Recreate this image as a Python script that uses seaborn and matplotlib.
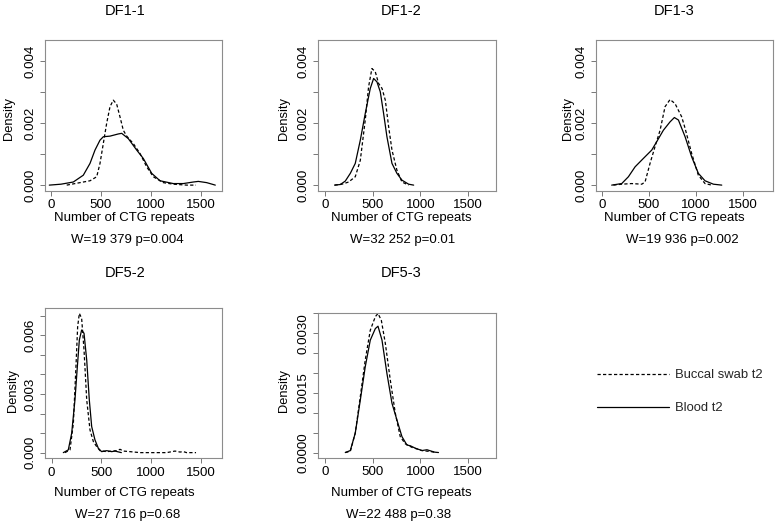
import matplotlib
matplotlib.use('Agg')
import matplotlib.pyplot as plt
import seaborn as sns

# density curves (x = CTG repeats, y = density)
df11_blood_x = [-17, 100, 223, 323, 390, 440, 490, 523, 590, 673, 707, 773, 857, 923, 1007, 1090, 1223, 1323, 1423, 1473, 1557, 1643]
df11_blood_y = [0.0, 0.00003, 0.0001, 0.00032, 0.0007, 0.00113, 0.00145, 0.00156, 0.00158, 0.00165, 0.00167, 0.0015, 0.00113, 0.00086, 0.00038, 0.00014, 0.00005, 0.00005, 0.0001, 0.00012, 0.00008, 0.0]
df11_buccal_x = [157, 290, 390, 457, 490, 523, 557, 590, 623, 657, 690, 723, 757, 823, 890, 957, 1023, 1123, 1223, 1357, 1450]
df11_buccal_y = [0.0, 0.00008, 0.00014, 0.00027, 0.0007, 0.00134, 0.002, 0.00253, 0.00274, 0.00261, 0.0022, 0.00177, 0.00158, 0.00134, 0.00102, 0.00059, 0.00027, 0.00008, 0.00003, 0.0, 0.0]

df12_blood_x = [98, 158, 210, 263, 315, 368, 420, 473, 508, 543, 578, 613, 648, 701, 753, 806, 876, 929]
df12_blood_y = [0.0, 0.00002, 0.00013, 0.00038, 0.0007, 0.00145, 0.00231, 0.00312, 0.00344, 0.00333, 0.00301, 0.00231, 0.00156, 0.0007, 0.00038, 0.00016, 0.00003, 0.0]
df12_buccal_x = [98, 175, 245, 315, 368, 420, 455, 490, 525, 560, 596, 631, 666, 701, 753, 806, 876]
df12_buccal_y = [0.0, 0.00003, 0.0001, 0.00027, 0.0008, 0.0021, 0.00317, 0.00376, 0.00366, 0.00328, 0.00312, 0.00274, 0.00188, 0.00113, 0.00048, 0.0001, 0.0]

df13_blood_x = [106, 213, 284, 355, 443, 532, 585, 656, 727, 773, 816, 887, 957, 1028, 1099, 1188, 1277]
df13_blood_y = [0.0, 0.00005, 0.00027, 0.00059, 0.00086, 0.00113, 0.0014, 0.00177, 0.00204, 0.00218, 0.0021, 0.00156, 0.00091, 0.00038, 0.00014, 0.00003, 0.0]
df13_buccal_x = [124, 213, 319, 426, 461, 514, 567, 621, 674, 727, 780, 851, 887, 957, 1028, 1099, 1170]
df13_buccal_y = [0.0, 0.00003, 0.00005, 0.00003, 0.0001, 0.0007, 0.00124, 0.00177, 0.00253, 0.00276, 0.00263, 0.0022, 0.00183, 0.00102, 0.00032, 0.00005, 0.0]

df52_blood_x = [117, 167, 201, 234, 258, 278, 301, 325, 352, 378, 402, 435, 469, 502, 553, 603, 636, 700]
df52_blood_y = [0.0, 0.00014, 0.00099, 0.0027, 0.0044, 0.00576, 0.00627, 0.0061, 0.00474, 0.0027, 0.00133, 0.00065, 0.00022, 0.00005, 0.0001, 0.00005, 0.00008, 0.0]
df52_buccal_x = [134, 184, 218, 244, 261, 278, 301, 325, 352, 385, 419, 452, 486, 553, 653, 687, 720, 787, 888, 1155, 1239, 1289, 1323, 1356, 1450]
df52_buccal_y = [0.0, 0.00014, 0.0015, 0.0044, 0.00644, 0.00712, 0.00687, 0.00525, 0.0027, 0.00116, 0.00056, 0.00031, 0.0001, 0.00005, 0.0001, 0.00017, 0.00008, 0.00005, 0.0, 0.0, 0.00008, 0.00003, 0.00005, 0.0, 0.0]

df53_blood_x = [210, 263, 315, 368, 420, 473, 526, 554, 596, 648, 701, 753, 806, 858, 894, 946, 1016, 1069, 1149, 1190]
df53_blood_y = [0.0, 0.00005, 0.00049, 0.00132, 0.00216, 0.00283, 0.00312, 0.00318, 0.00283, 0.00199, 0.00124, 0.00082, 0.0004, 0.00019, 0.00017, 0.00011, 0.00005, 0.00007, 0.00001, 0.0]
df53_buccal_x = [210, 263, 315, 368, 420, 473, 526, 554, 589, 631, 683, 736, 788, 841, 911, 1016, 1121, 1160]
df53_buccal_y = [0.0, 0.00003, 0.00049, 0.00141, 0.00233, 0.00308, 0.00342, 0.0035, 0.00333, 0.00275, 0.00183, 0.00099, 0.0004, 0.00022, 0.00013, 0.00005, 0.00002, 0.0]

titles = ['DF1-1', 'DF1-2', 'DF1-3', 'DF5-2', 'DF5-3']
stats_text = ['W=19 379 p=0.004', 'W=32 252 p=0.01', 'W=19 936 p=0.002', 'W=27 716 p=0.68', 'W=22 488 p=0.38']
x_ticks = [0, 500, 1000, 1500]
y_ticks_a = [0.000, 0.001, 0.002, 0.003, 0.004]
y_labels_a = ['0.000', '', '0.002', '', '0.004']
y_ticks_b = [0.000, 0.001, 0.002, 0.003, 0.004, 0.005, 0.006, 0.007]
y_labels_b = ['0.000', '', '', '0.003', '', '', '0.006', '']
y_ticks_c = [0.0, 0.0005, 0.0010, 0.0015, 0.0020, 0.0025, 0.0030, 0.0035]
y_labels_c = ['0.0000', '', '', '0.0015', '', '', '0.0030', '']
legend_labels = ['Buccal swab t2', 'Blood t2']

sns.set_theme(style='white')
plt.rcParams['font.family'] = ['Liberation Sans', 'DejaVu Sans']

W, H = 777, 526
fig = plt.figure(figsize=(W / 100, H / 100), dpi=100)

def rect(l, r, t, b):
    return [l / W, 1 - b / H, (r - l) / W, (b - t) / H]

def ftext(x, y, s, size=9, rot=0):
    fig.text(x / W, 1 - y / H, s, ha='center', va='center', fontsize=size, rotation=rot, color='black')

panels = [
    dict(box=(44.7, 221.7, 40, 190.7), xlim=(-63, 1707), ylim=(-0.00018, 0.00468),
         blood=(df11_blood_x, df11_blood_y), buccal=(df11_buccal_x, df11_buccal_y),
         yt=y_ticks_a, yl=y_labels_a, title=(125, 11), xlab=(124, 218), stat=(127, 240), ylab=(9, 118)),
    dict(box=(317.7, 496.3, 40, 190.7), xlim=(-80, 1798), ylim=(-0.00018, 0.00468),
         blood=(df12_blood_x, df12_blood_y), buccal=(df12_buccal_x, df12_buccal_y),
         yt=y_ticks_a, yl=y_labels_a, title=(401, 11), xlab=(401, 218), stat=(403, 240), ylab=(284, 118)),
    dict(box=(595.7, 772.7, 40, 190.7), xlim=(-64, 1819), ylim=(-0.00018, 0.00468),
         blood=(df13_blood_x, df13_blood_y), buccal=(df13_buccal_x, df13_buccal_y),
         yt=y_ticks_a, yl=y_labels_a, title=(674, 11), xlab=(674.5, 218), stat=(682.7, 240), ylab=(568, 118)),
    dict(box=(44.7, 221.7, 307.7, 458.3), xlim=(-70, 1708), ylim=(-0.00029, 0.00741),
         blood=(df52_blood_x, df52_blood_y), buccal=(df52_buccal_x, df52_buccal_y),
         yt=y_ticks_b, yl=y_labels_b, title=(125, 273), xlab=(124, 492.7), stat=(127.8, 515), ylab=(13.3, 391)),
    dict(box=(317.7, 496.3, 312.7, 457.7), xlim=(-80, 1798), ylim=(-0.00013, 0.00352),
         blood=(df53_blood_x, df53_blood_y), buccal=(df53_buccal_x, df53_buccal_y),
         yt=y_ticks_c, yl=y_labels_c, title=(401, 273), xlab=(401, 493), stat=(398.3, 515), ylab=(284, 391)),
]

dash = (0, (2.6, 1.8))
first_ax = None
for i, p in enumerate(panels):
    ax = fig.add_axes(rect(*p['box']))
    sns.lineplot(x=p['buccal'][0], y=p['buccal'][1], ax=ax, color='black', linewidth=0.9,
                 linestyle=dash, label=legend_labels[0], legend=False)
    sns.lineplot(x=p['blood'][0], y=p['blood'][1], ax=ax, color='black', linewidth=0.9,
                 label=legend_labels[1], legend=False)
    ax.set_xlim(*p['xlim'])
    ax.set_ylim(*p['ylim'])
    ax.set_xticks(x_ticks)
    ax.set_xticklabels([str(t) for t in x_ticks], fontsize=9.6)
    ax.set_yticks(p['yt'])
    ax.set_yticklabels(p['yl'], fontsize=9.6, rotation=90, va='center')
    ax.tick_params(axis='both', direction='out', length=3.5, width=0.7, color='#777777',
                   labelcolor='black', pad=2.5, left=True, bottom=True)
    for sp in ax.spines.values():
        sp.set_color('#8c8c8c')
        sp.set_linewidth(0.8)
    ax.set_xlabel('')
    ax.set_ylabel('')
    ftext(*p['title'], titles[i], size=10.5)
    ftext(*p['xlab'], 'Number of CTG repeats', size=9.5)
    ftext(*p['stat'], stats_text[i], size=9.5)
    ftext(*p['ylab'], 'Density', size=9.3, rot=90)
    if first_ax is None:
        first_ax = ax

handles, labels = first_ax.get_legend_handles_labels()
fig.legend(handles, labels, loc='center left', bbox_to_anchor=(597 / W, 1 - 391.7 / H),
           frameon=False, handlelength=5.5, handletextpad=0.45, labelspacing=1.6,
           borderpad=0, borderaxespad=0, fontsize=9.4)

fig.savefig('out.png', dpi=100, facecolor='white')
